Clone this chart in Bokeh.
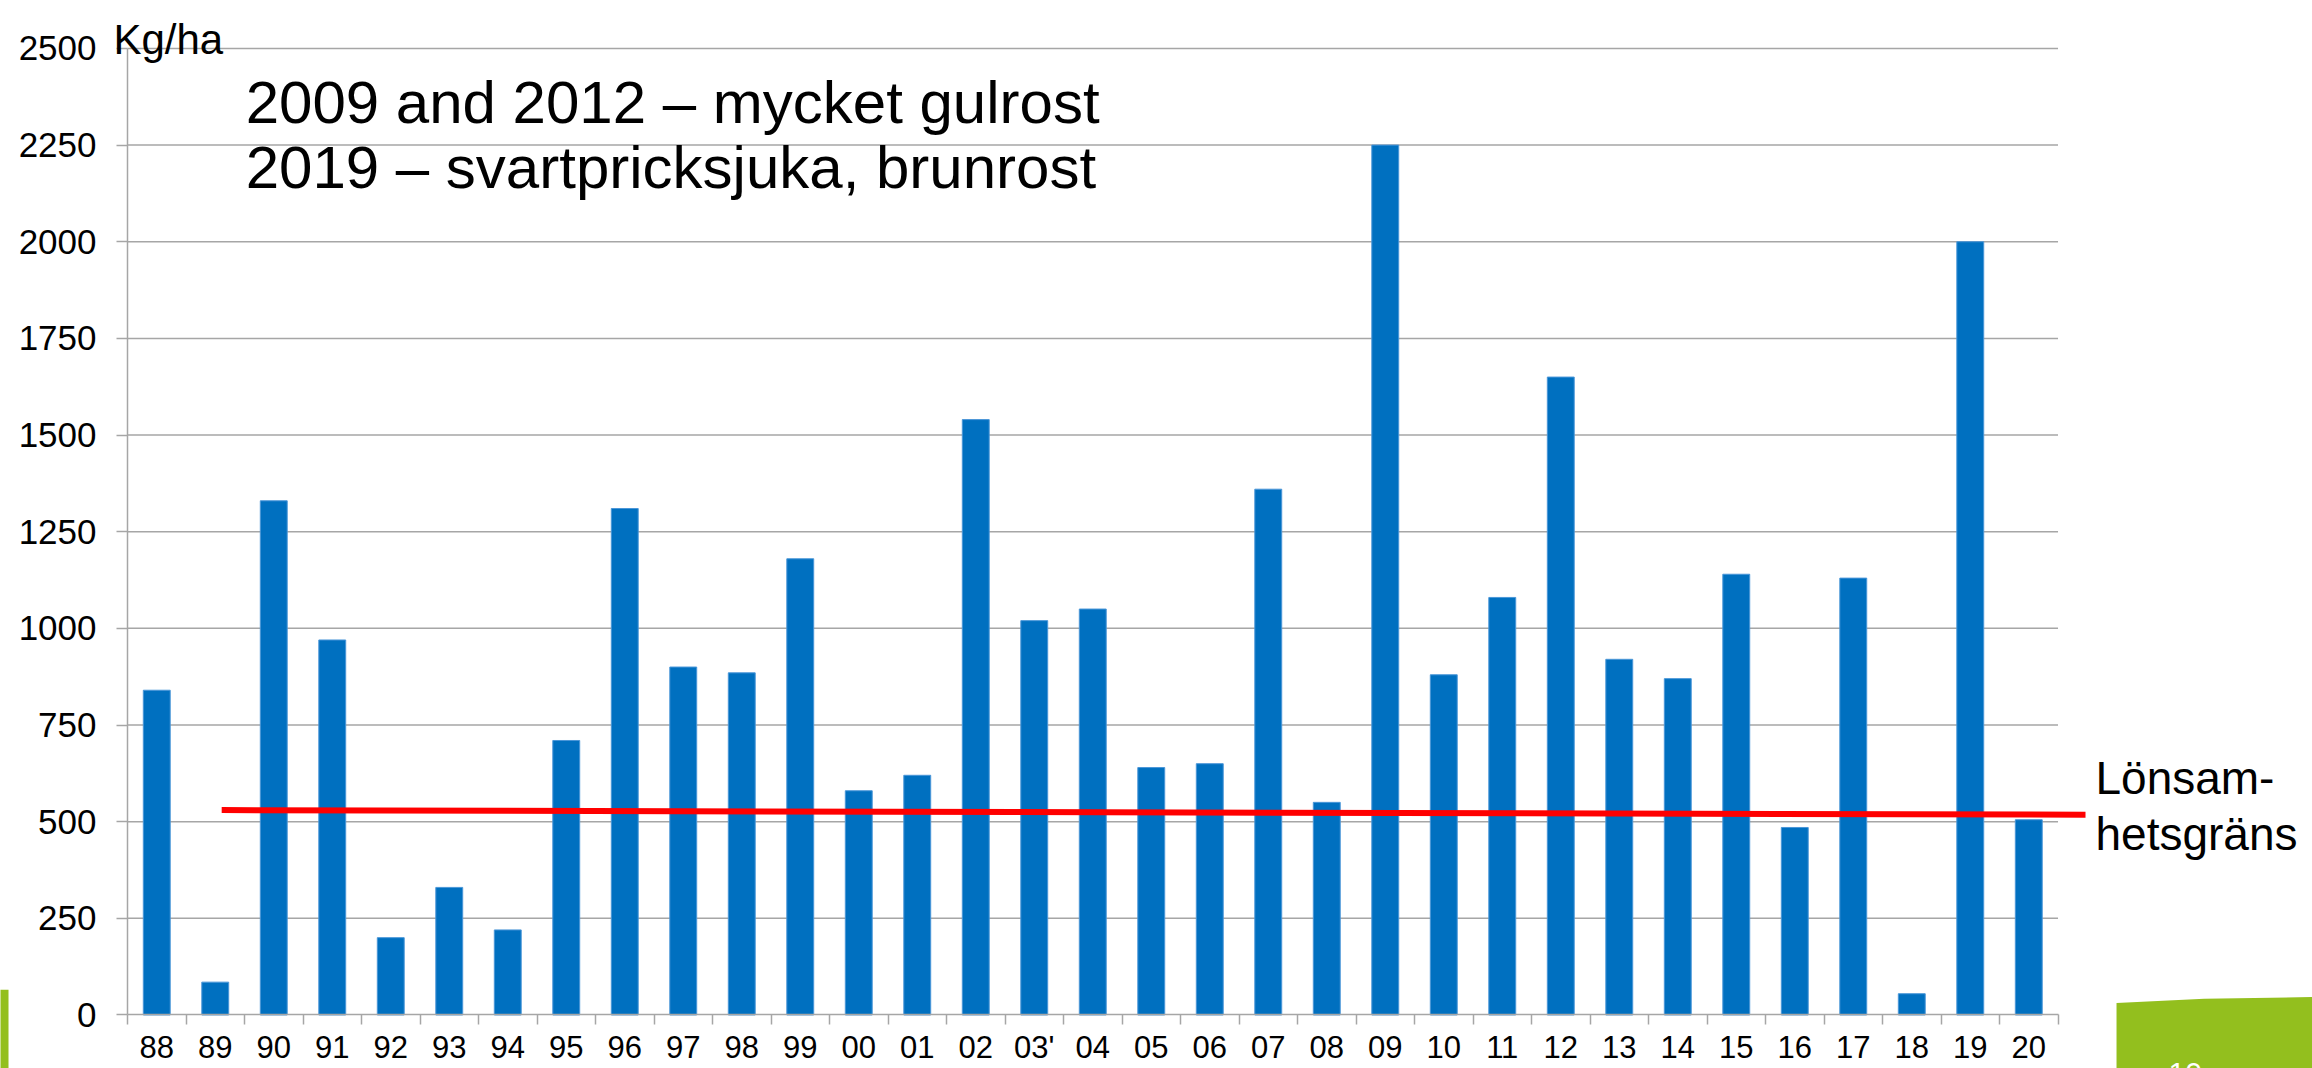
from bokeh.plotting import figure
from bokeh.models import Range1d, FixedTicker, Label, PolyAnnotation, BoxAnnotation
from bokeh.embed import file_html
from bokeh.resources import INLINE

# ---- data ----
years = ["88", "89", "90", "91", "92", "93", "94", "95", "96", "97", "98", "99",
         "00", "01", "02", "03'", "04", "05", "06", "07", "08", "09", "10", "11",
         "12", "13", "14", "15", "16", "17", "18", "19", "20"]
yields = [840, 85, 1330, 970, 200, 330, 220, 710, 1310, 900, 885, 1180,
          580, 620, 1540, 1020, 1050, 640, 650, 1360, 550, 2250, 880, 1080,
          1650, 920, 870, 1140, 485, 1130, 55, 2000, 505]
y_ticks = [0, 250, 500, 750, 1000, 1250, 1500, 1750, 2000, 2250, 2500]
threshold_values = [530, 518]          # Lönsamhetsgräns, start / end
threshold_span = [1.61, 33.47]         # in category units
note_lines = ["2009 and 2012 \u2013 mycket gulrost",
              "2019 \u2013 svartpricksjuka,  brunrost"]
unit_label = "Kg/ha"
threshold_label = ["Lönsam-", "hetsgräns"]
slide_number = "10"

FONT = "Liberation Sans"
GRID = "#a6a6a6"
BLUE = "#0070C0"
GREEN = "#93BF1E"

n = len(years)
centers = [i + 0.5 for i in range(n)]

p = figure(width=2312, height=1068,
           x_range=Range1d(-2.171, 37.35), y_range=Range1d(-138.4, 2624),
           output_backend="svg", toolbar_location=None,
           min_border_left=0, min_border_right=0,
           min_border_top=0, min_border_bottom=0)
p.outline_line_color = None
p.xgrid.visible = False
p.ygrid.visible = False
p.background_fill_color = "white"
p.border_fill_color = "white"

# gridlines (stop at the last category)
gy = y_ticks[1:]
p.segment(x0=[0] * len(gy), y0=gy, x1=[n] * len(gy), y1=gy,
          line_color=GRID, line_width=1.5)

# bars
p.vbar(x=centers, top=yields, width=0.46, fill_color=BLUE,
       line_color="#4a96d8", line_width=1)

# threshold line
p.line(x=threshold_span, y=threshold_values, line_color="#FF0000", line_width=6)

# x axis
xa = p.xaxis[0]
xa.fixed_location = 0
xa.ticker = FixedTicker(ticks=centers, minor_ticks=list(range(n + 1)))
xa.major_label_overrides = {c: y for c, y in zip(centers, years)}
xa.bounds = (0, n)
xa.axis_line_color = GRID
xa.axis_line_width = 1.5
xa.major_tick_out = 0
xa.major_tick_in = 0
xa.minor_tick_out = 10
xa.minor_tick_in = 0
xa.minor_tick_line_color = GRID
xa.minor_tick_line_width = 1.5
xa.major_label_text_font = FONT
xa.major_label_text_font_size = "31px"
xa.major_label_text_color = "black"
xa.major_label_standoff = 5

# y axis
ya = p.yaxis[0]
ya.fixed_location = 0
ya.ticker = FixedTicker(ticks=y_ticks, minor_ticks=[])
ya.bounds = (0, 2500)
ya.axis_line_color = GRID
ya.axis_line_width = 1.5
ya.major_tick_out = 11
ya.major_tick_in = 0
ya.major_tick_line_color = GRID
ya.major_tick_line_width = 1.5
ya.minor_tick_out = 0
ya.minor_tick_in = 0
ya.major_label_text_font = FONT
ya.major_label_text_font_size = "35px"
ya.major_label_text_color = "black"
ya.major_label_standoff = 20

# texts
p.add_layout(Label(x=-0.24, y=2523, text=unit_label, text_font=FONT,
                   text_font_size="42px", text_color="black",
                   text_baseline="alphabetic"))
for txt, yy in zip(note_lines, [2360, 2192]):
    p.add_layout(Label(x=2.02, y=yy, text=txt, text_font=FONT,
                       text_font_size="60px", text_color="black",
                       text_baseline="alphabetic"))
for txt, yy in zip(threshold_label, [613, 468]):
    p.add_layout(Label(x=33.64, y=yy, text=txt, text_font=FONT,
                       text_font_size="46px", text_color="black",
                       text_baseline="alphabetic"))

# slide decorations (green corner shapes)
p.add_layout(BoxAnnotation(left=-2.4, right=-2.034, top=65, bottom=-300,
                           fill_color=GREEN, fill_alpha=1, line_color=None))
p.add_layout(PolyAnnotation(xs=[34.0, 35.5, 37.6, 37.6, 34.0],
                            ys=[31, 42, 47, -300, -300],
                            fill_color=GREEN, fill_alpha=1, line_color=None))
p.add_layout(Label(x=34.89, y=-124, text=slide_number, text_font=FONT,
                   text_font_size="30px", text_color="white",
                   text_baseline="top"))

open("out.html", "w").write(file_html(p, INLINE))
